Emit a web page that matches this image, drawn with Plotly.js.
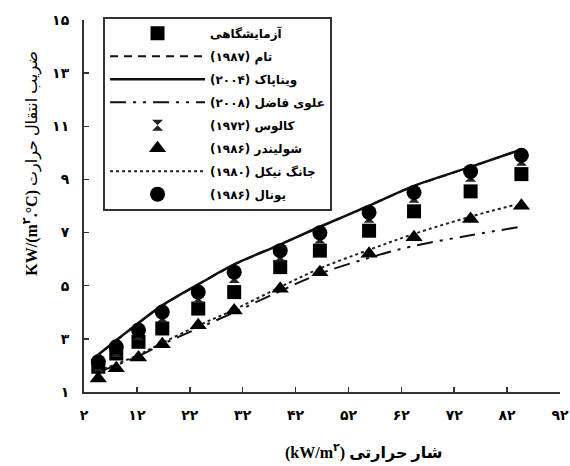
<!DOCTYPE html>
<html>
<head>
<meta charset="utf-8">
<script src="https://cdn.plot.ly/plotly-3.0.1.min.js"></script>
<style>html,body{margin:0;padding:0;background:#fff;}#chart{width:570px;height:466px;}</style>
</head>
<body>
<div id="chart"></div>
<script>
// heat flux (kW/m2) at measured points
const heatFlux = [4.7, 8.1, 12.3, 16.8, 23.6, 30.4, 39.1, 46.6, 55.9, 64.4, 75.1, 84.7];
const experimental = [1.95, 2.45, 2.89, 3.39, 4.14, 4.76, 5.70, 6.32, 7.07, 7.80, 8.55, 9.20];
const yunal1986 = [2.14, 2.70, 3.33, 4.01, 4.76, 5.51, 6.32, 6.99, 7.76, 8.51, 9.30, 9.91];
const callus1972 = [1.98, 2.52, 3.15, 3.82, 4.56, 5.31, 6.12, 6.80, 7.58, 8.33, 9.12, 9.72];
const schlunder1986 = [1.51, 1.89, 2.30, 2.80, 3.51, 4.07, 4.89, 5.51, 6.20, 6.82, 7.51, 8.01];

const vinapakX = [3.8, 8.1, 12.3, 16.8, 23.6, 30.4, 39.1, 46.6, 55.9, 64.4, 75.1, 84.9];
const vinapakY = [2.26, 2.95, 3.60, 4.26, 5.05, 5.80, 6.55, 7.22, 8.01, 8.76, 9.47, 10.14];
const tamX = [3.8, 8.1, 12.3, 16.8, 23.6, 30.4, 39.1, 46.6, 55.9, 64.4, 75.1, 84.9];
const tamY = [2.26, 2.95, 3.60, 4.26, 5.05, 5.80, 6.55, 7.22, 8.01, 8.76, 9.47, 10.14];
const jangX = [4.7, 8.1, 12.3, 16.8, 23.6, 30.4, 39.1, 46.6, 55.9, 64.4, 75.1, 83.6];
const jangY = [1.80, 2.05, 2.40, 2.85, 3.50, 4.10, 4.95, 5.65, 6.35, 6.95, 7.60, 8.05];
const alaviX = [4.7, 12.3, 16.8, 23.6, 30.4, 39.1, 46.6, 55.9, 64.4, 75.1, 84.0];
const alaviY = [1.75, 2.35, 2.80, 3.40, 4.00, 4.80, 5.45, 6.05, 6.50, 6.90, 7.20];

const xTickVals = [2, 12, 22, 32, 42, 52, 62, 72, 82, 92];
const xTickText = ['۲', '۱۲', '۲۲', '۳۲', '۴۲', '۵۲', '۶۲', '۷۲', '۸۲', '۹۲'];
const yTickVals = [1, 3, 5, 7, 9, 11, 13, 15];
const yTickText = ['۱', '۳', '۵', '۷', '۹', '۱۱', '۱۳', '۱۵'];

const RLM = '\u200F';
const names = {
  exp: 'آزمایشگاهی' + RLM,
  tam: 'تام (۱۹۸۷)' + RLM,
  vin: 'ویناپاک (۲۰۰۴)' + RLM,
  alavi: 'علوی فاضل (۲۰۰۸)' + RLM,
  callus: 'کالوس (۱۹۷۲)' + RLM,
  schl: 'شولیندر (۱۹۸۶)' + RLM,
  jang: 'جانگ نیکل (۱۹۸۰)' + RLM,
  yunal: 'یونال (۱۹۸۶)' + RLM
};

const traces = [
  {x: tamX, y: tamY, name: names.tam, mode: 'lines', legendrank: 2, legendgroup: 'b',
   line: {color: '#111', width: 2, dash: '8px,6px'}},
  {x: vinapakX, y: vinapakY, name: names.vin, mode: 'lines', legendrank: 3, legendgroup: 'c',
   line: {color: '#111', width: 2.5, shape: 'spline'}},
  {x: alaviX, y: alaviY, name: names.alavi, mode: 'lines', legendrank: 4, legendgroup: 'd',
   line: {color: '#111', width: 2, dash: '16px,7px,3px,7px,3px,7px', shape: 'spline'}},
  {x: jangX, y: jangY, name: names.jang, mode: 'lines', legendrank: 7, legendgroup: 'g',
   line: {color: '#222', width: 2, dash: 'dot', shape: 'spline'}},
  {x: heatFlux, y: experimental, name: names.exp, mode: 'markers', legendrank: 1, legendgroup: 'a',
   marker: {symbol: 'square', size: 14, color: '#000'}},
  {x: heatFlux, y: callus1972, name: names.callus, mode: 'markers', legendrank: 5, legendgroup: 'e',
   marker: {symbol: 'hourglass', size: 11, color: '#222'}},
  {x: heatFlux, y: schlunder1986, name: names.schl, mode: 'markers', legendrank: 6, legendgroup: 'f',
   marker: {symbol: 'triangle-up', size: 15, color: '#000'}},
  {x: heatFlux, y: yunal1986, name: names.yunal, mode: 'markers', legendrank: 8, legendgroup: 'h',
   marker: {symbol: 'circle', size: 15, color: '#000'}}
];

const tickFont = {family: 'DejaVu Sans', size: 14, color: '#000', weight: 700};

const layout = {
  width: 570, height: 466,
  margin: {l: 84, r: 10, t: 20, b: 74},
  paper_bgcolor: '#fff', plot_bgcolor: '#fff',
  showlegend: true,
  legend: {
    x: 0.04, y: 1.009, xanchor: 'left', yanchor: 'top',
    bgcolor: '#fff', bordercolor: '#333', borderwidth: 2,
    font: {family: 'DejaVu Sans', size: 12, color: '#000', weight: 700},
    itemwidth: 95, tracegroupgap: 4, traceorder: 'grouped'
  },
  xaxis: {
    range: [2, 92], tickvals: xTickVals, ticktext: xTickText,
    ticks: 'inside', ticklen: 5, tickwidth: 1.5, tickcolor: '#333',
    showline: true, linecolor: '#333', linewidth: 2, showgrid: false, zeroline: false,
    tickfont: tickFont, ticklabelstandoff: 9
  },
  yaxis: {
    range: [1, 15], tickvals: yTickVals, ticktext: yTickText,
    ticks: 'inside', ticklen: 5, tickwidth: 1.5, tickcolor: '#333',
    showline: true, linecolor: '#333', linewidth: 2, showgrid: false, zeroline: false,
    tickfont: tickFont, ticklabelstandoff: 10
  },
  annotations: [
    {xref: 'paper', yref: 'paper', x: 0.588, y: -0.193, showarrow: false,
     text: '<b>(kW/m<sup>۲</sup>) شار حرارتی</b>',
     font: {family: 'Liberation Serif, DejaVu Sans', size: 16, color: '#000'}},
    {xref: 'paper', yref: 'paper', x: -0.139, y: 0.616, showarrow: false, textangle: -90,
     text: '<b>KW/(m<sup>۲</sup>.°C)</b> ضریب انتقال حرارت',
     font: {family: 'Liberation Serif, DejaVu Sans', size: 16, color: '#000'}}
  ]
};

Plotly.newPlot('chart', traces, layout, {displayModeBar: false, staticPlot: true});
</script>
</body>
</html>
